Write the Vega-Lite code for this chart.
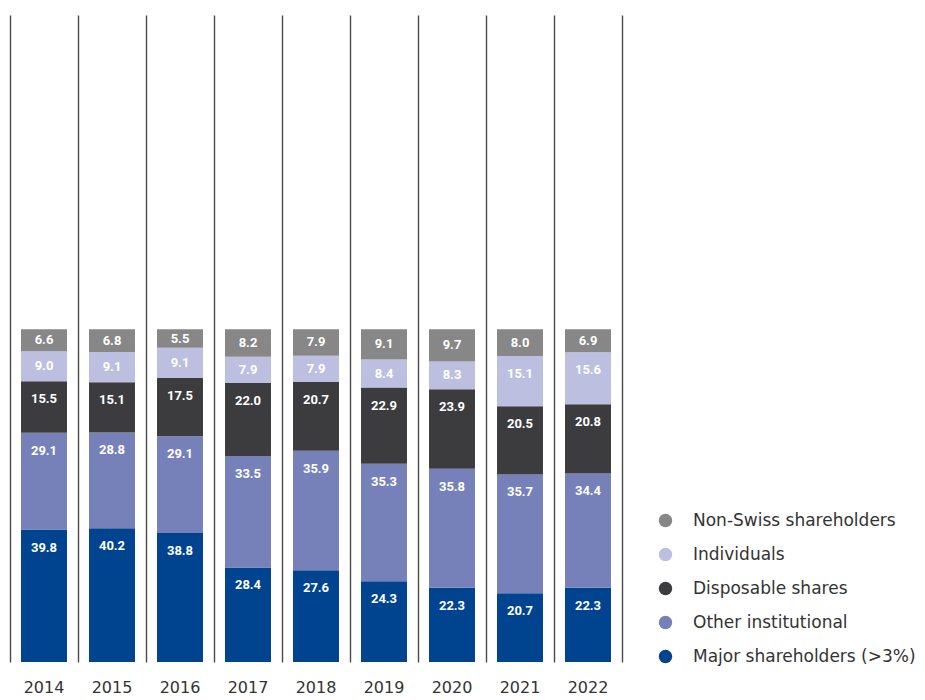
{
  "$schema": "https://vega.github.io/schema/vega-lite/v6.json",
  "width": 612,
  "height": 647,
  "autosize": {"type": "none"},
  "padding": {"left": 10, "top": 15, "right": 303, "bottom": 38},
  "background": "white",
  "config": {"view": {"stroke": null}},
  "data": {
    "values": [
      {"year": "2014", "category": "Major shareholders (>3%)", "rank": 1, "value": 39.8},
      {"year": "2014", "category": "Other institutional", "rank": 2, "value": 29.1},
      {"year": "2014", "category": "Disposable shares", "rank": 3, "value": 15.5},
      {"year": "2014", "category": "Individuals", "rank": 4, "value": 9.0},
      {"year": "2014", "category": "Non-Swiss shareholders", "rank": 5, "value": 6.6},
      {"year": "2015", "category": "Major shareholders (>3%)", "rank": 1, "value": 40.2},
      {"year": "2015", "category": "Other institutional", "rank": 2, "value": 28.8},
      {"year": "2015", "category": "Disposable shares", "rank": 3, "value": 15.1},
      {"year": "2015", "category": "Individuals", "rank": 4, "value": 9.1},
      {"year": "2015", "category": "Non-Swiss shareholders", "rank": 5, "value": 6.8},
      {"year": "2016", "category": "Major shareholders (>3%)", "rank": 1, "value": 38.8},
      {"year": "2016", "category": "Other institutional", "rank": 2, "value": 29.1},
      {"year": "2016", "category": "Disposable shares", "rank": 3, "value": 17.5},
      {"year": "2016", "category": "Individuals", "rank": 4, "value": 9.1},
      {"year": "2016", "category": "Non-Swiss shareholders", "rank": 5, "value": 5.5},
      {"year": "2017", "category": "Major shareholders (>3%)", "rank": 1, "value": 28.4},
      {"year": "2017", "category": "Other institutional", "rank": 2, "value": 33.5},
      {"year": "2017", "category": "Disposable shares", "rank": 3, "value": 22.0},
      {"year": "2017", "category": "Individuals", "rank": 4, "value": 7.9},
      {"year": "2017", "category": "Non-Swiss shareholders", "rank": 5, "value": 8.2},
      {"year": "2018", "category": "Major shareholders (>3%)", "rank": 1, "value": 27.6},
      {"year": "2018", "category": "Other institutional", "rank": 2, "value": 35.9},
      {"year": "2018", "category": "Disposable shares", "rank": 3, "value": 20.7},
      {"year": "2018", "category": "Individuals", "rank": 4, "value": 7.9},
      {"year": "2018", "category": "Non-Swiss shareholders", "rank": 5, "value": 7.9},
      {"year": "2019", "category": "Major shareholders (>3%)", "rank": 1, "value": 24.3},
      {"year": "2019", "category": "Other institutional", "rank": 2, "value": 35.3},
      {"year": "2019", "category": "Disposable shares", "rank": 3, "value": 22.9},
      {"year": "2019", "category": "Individuals", "rank": 4, "value": 8.4},
      {"year": "2019", "category": "Non-Swiss shareholders", "rank": 5, "value": 9.1},
      {"year": "2020", "category": "Major shareholders (>3%)", "rank": 1, "value": 22.3},
      {"year": "2020", "category": "Other institutional", "rank": 2, "value": 35.8},
      {"year": "2020", "category": "Disposable shares", "rank": 3, "value": 23.9},
      {"year": "2020", "category": "Individuals", "rank": 4, "value": 8.3},
      {"year": "2020", "category": "Non-Swiss shareholders", "rank": 5, "value": 9.7},
      {"year": "2021", "category": "Major shareholders (>3%)", "rank": 1, "value": 20.7},
      {"year": "2021", "category": "Other institutional", "rank": 2, "value": 35.7},
      {"year": "2021", "category": "Disposable shares", "rank": 3, "value": 20.5},
      {"year": "2021", "category": "Individuals", "rank": 4, "value": 15.1},
      {"year": "2021", "category": "Non-Swiss shareholders", "rank": 5, "value": 8.0},
      {"year": "2022", "category": "Major shareholders (>3%)", "rank": 1, "value": 22.3},
      {"year": "2022", "category": "Other institutional", "rank": 2, "value": 34.4},
      {"year": "2022", "category": "Disposable shares", "rank": 3, "value": 20.8},
      {"year": "2022", "category": "Individuals", "rank": 4, "value": 15.6},
      {"year": "2022", "category": "Non-Swiss shareholders", "rank": 5, "value": 6.9}
    ]
  },
  "transform": [
    {"stack": "value", "groupby": ["year"], "sort": [{"field": "rank", "order": "ascending"}], "as": ["v0", "v1"]},
    {"calculate": "max(datum.v1 - 5.4, (datum.v0 + datum.v1) / 2)", "as": "labelPos"}
  ],
  "encoding": {
    "x": {
      "field": "year",
      "type": "ordinal",
      "scale": {"paddingInner": 0, "paddingOuter": 0},
      "axis": {
        "title": null,
        "labelAngle": 0,
        "domain": false,
        "ticks": false,
        "grid": true,
        "bandPosition": 0,
        "gridColor": "#4a4a4a",
        "gridWidth": 1.4,
        "labelFont": "DejaVu Sans",
        "labelFontSize": 16,
        "labelColor": "#333333",
        "labelPadding": 17
      }
    }
  },
  "layer": [
    {
      "mark": {"type": "bar", "width": {"band": 0.676}},
      "encoding": {
        "y": {
          "field": "v1",
          "type": "quantitative",
          "scale": {"domain": [0, 194.5], "nice": false, "zero": true},
          "axis": {
            "orient": "right",
            "title": null,
            "labels": false,
            "ticks": false,
            "grid": false,
            "domain": true,
            "domainColor": "#4a4a4a",
            "domainWidth": 1.4
          }
        },
        "y2": {"field": "v0"},
        "color": {
          "field": "category",
          "type": "nominal",
          "scale": {
            "domain": ["Non-Swiss shareholders", "Individuals", "Disposable shares", "Other institutional", "Major shareholders (>3%)"],
            "range": ["#878787", "#bcbfdf", "#3c3c3f", "#7581b8", "#00438f"]
          },
          "legend": {
            "title": null,
            "orient": "none",
            "legendX": 647,
            "legendY": 497,
            "symbolType": "circle",
            "symbolSize": 180,
            "symbolStrokeWidth": 0,
            "symbolOpacity": 1,
            "labelFont": "DejaVu Sans",
            "labelFontSize": 17,
            "labelColor": "#333333",
            "labelOffset": 19,
            "rowPadding": 16,
            "padding": 0,
            "labelLimit": 400
          }
        }
      }
    },
    {
      "mark": {
        "type": "text",
        "color": "white",
        "font": "Roboto",
        "fontWeight": "bold",
        "fontSize": 13,
        "baseline": "middle",
        "align": "center"
      },
      "encoding": {
        "y": {
          "field": "labelPos",
          "type": "quantitative",
          "axis": {
            "orient": "right",
            "title": null,
            "labels": false,
            "ticks": false,
            "grid": false,
            "domain": true,
            "domainColor": "#4a4a4a",
            "domainWidth": 1.4
          }
        },
        "text": {"field": "value", "type": "quantitative", "format": ".1f"}
      }
    }
  ]
}
